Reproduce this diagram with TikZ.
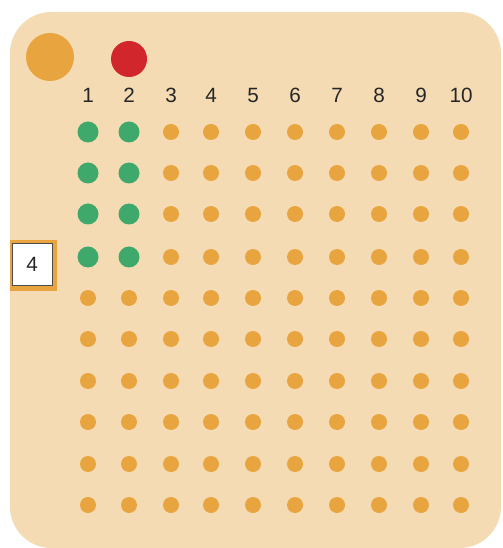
\documentclass[tikz,border=0pt]{standalone}
\usepackage{fontspec}
\setmainfont{Liberation Sans}
\definecolor{boardtan}{HTML}{F4DBB3}
\definecolor{counterorange}{HTML}{E8A53F}
\definecolor{countergreen}{HTML}{3EA96A}
\definecolor{counterred}{HTML}{D1262C}
\begin{document}
\begin{tikzpicture}[x=0.75pt,y=-0.75pt,every node/.style={font=\fontsize{15.5}{18}\selectfont,text=black!85}]
\useasboundingbox (0,0) rectangle (502,548);
% board
\fill[boardtan,rounded corners=31pt] (10,12) rectangle (501,548);
% big counters at top
\node[circle,fill=counterorange,minimum size=36pt,inner sep=0] (bigorange) at (50,57) {};
\node[circle,fill=counterred,minimum size=27pt,inner sep=0] (bigred) at (129,59) {};
% column numbers and dots
\foreach \c/\x in {1/88,2/129,3/171,4/211,5/253,6/295,7/337,8/379,9/421,10/461} {
  \node (col\c) at (\x,95) {\c};
  \foreach \r/\y in {1/132,2/173,3/214,4/257,5/298,6/339,7/381,8/422,9/464,10/505} {
    \ifnum\c<3 \ifnum\r<5
      \node[circle,fill=countergreen,minimum size=15.75pt,inner sep=0] (dot\r-\c) at (\x,\y) {};
    \else
      \node[circle,fill=counterorange,minimum size=12pt,inner sep=0] (dot\r-\c) at (\x,\y) {};
    \fi \else
      \node[circle,fill=counterorange,minimum size=12pt,inner sep=0] (dot\r-\c) at (\x,\y) {};
    \fi
  }
}
% row card
\fill[counterorange] (10,240) rectangle (57,291);
\node[draw=black!70,fill=white,line width=0.6pt,minimum width=30pt,minimum height=32pt,inner sep=0] (rowcard) at (32,264.5) {4};
\end{tikzpicture}
\end{document}
